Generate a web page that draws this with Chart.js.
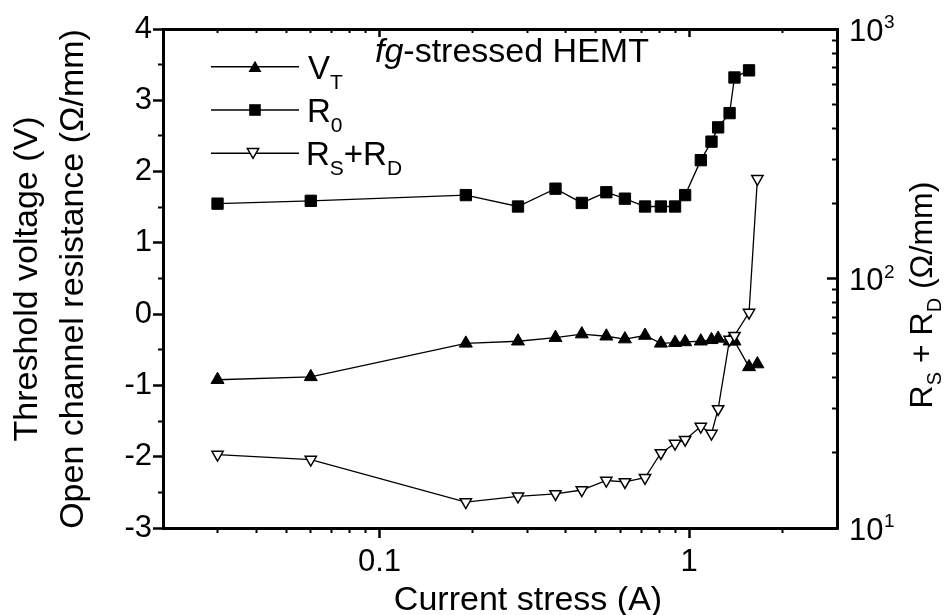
<!DOCTYPE html>
<html><head><meta charset="utf-8">
<script src="https://cdn.jsdelivr.net/npm/chart.js@4.4.0/dist/chart.umd.min.js"></script>
<style>html,body{margin:0;padding:0;background:#fff;}#wrap{width:945px;height:615px;position:relative;}</style>
</head><body><div id="wrap"><canvas id="c"></canvas></div>
<script>
// ---- data ----
const currentVT = [0.03,0.06,0.19,0.28,0.37,0.45,0.54,0.62,0.72,0.81,0.90,0.97,1.09,1.18,1.24,1.35,1.40,1.56,1.66];
const thresholdVoltage = [-0.92,-0.88,-0.41,-0.38,-0.33,-0.28,-0.31,-0.35,-0.30,-0.41,-0.40,-0.39,-0.38,-0.36,-0.34,-0.38,-0.38,-0.74,-0.70];
const currentR0 = [0.03,0.06,0.19,0.28,0.37,0.45,0.54,0.62,0.72,0.81,0.90,0.97,1.09,1.18,1.24,1.35,1.40,1.56];
const openChannelR = [1.55,1.59,1.67,1.51,1.76,1.56,1.71,1.62,1.51,1.51,1.51,1.67,2.16,2.42,2.62,2.82,3.32,3.42];
const currentRsRd = [0.03,0.06,0.19,0.28,0.37,0.45,0.54,0.62,0.72,0.81,0.90,0.97,1.09,1.18,1.24,1.35,1.40,1.56,1.66];
const rsPlusRd = [19.7,18.8,12.7,13.4,13.7,14.2,15.5,15.3,15.9,20.0,21.8,22.6,25.5,23.9,30.0,57,59,73,251];

const xMajorTicks = [0.1, 1];
const xMinorTicks = [0.03,0.04,0.05,0.06,0.07,0.08,0.09,0.2,0.3,0.4,0.5,0.6,0.7,0.8,0.9,2];
const yLeftTicks = [-3,-2,-1,0,1,2,3,4];
const yLeftMinorTicks = [-2.5,-1.5,-0.5,0.5,1.5,2.5,3.5];
const yRightTicks = [10,100,1000];
const yRightExponents = ['1','2','3'];
const yRightMinorTicks = [20,30,40,50,60,70,80,90,200,300,400,500,600,700,800,900];

const FONT = "'Liberation Sans', Arial, Helvetica, sans-serif";
const fnt = (size, style) => (style ? style + ' ' : '') + size + 'px ' + FONT;
const pts = (xs, ys) => xs.map((x, i) => ({x: x, y: ys[i]}));
const setTicks = arr => s => { s.ticks = arr.map(v => ({value: v})); };

function drawParts(ctx, parts, x, y) {
  let cx = x;
  for (const p of parts) {
    ctx.font = fnt(p.size, p.style);
    ctx.fillText(p.t, cx, y + (p.dy || 0));
    cx += ctx.measureText(p.t).width;
  }
  return cx;
}
function partsWidth(ctx, parts) {
  let w = 0;
  for (const p of parts) { ctx.font = fnt(p.size, p.style); w += ctx.measureText(p.t).width; }
  return w;
}

function triUp(ctx, x, y, r) {
  ctx.beginPath();
  ctx.moveTo(x, y - r);
  ctx.lineTo(x + r * Math.cos(Math.PI/6), y + r/2);
  ctx.lineTo(x - r * Math.cos(Math.PI/6), y + r/2);
  ctx.closePath();
}
function triDown(ctx, x, y, r) {
  ctx.beginPath();
  ctx.moveTo(x, y + r);
  ctx.lineTo(x + r * Math.cos(Math.PI/6), y - r/2);
  ctx.lineTo(x - r * Math.cos(Math.PI/6), y - r/2);
  ctx.closePath();
}

const textPlugin = {
  id: 'texts',
  afterDraw(chart) {
    const ctx = chart.ctx;
    ctx.save();
    ctx.fillStyle = '#000';
    ctx.strokeStyle = '#000';
    ctx.textBaseline = 'alphabetic';
    ctx.textAlign = 'left';

    // in-plot title
    drawParts(ctx, [{t:'fg', size:34, style:'italic'}, {t:'-stressed HEMT', size:34}], 375, 62);

    // legend
    const rows = [66.7, 110, 153.3];
    const lx1 = 211, lx2 = 299, mx = 255;
    ctx.lineWidth = 1.5;
    rows.forEach(ry => { ctx.beginPath(); ctx.moveTo(lx1, ry); ctx.lineTo(lx2, ry); ctx.stroke(); });
    triUp(ctx, mx, rows[0] + 1.5, 7.5); ctx.fill();
    ctx.fillRect(mx - 5.8, rows[1] - 5.8, 11.6, 11.6);
    triDown(ctx, mx - 2, rows[2] - 1.5, 6.5); ctx.fillStyle = '#fff'; ctx.fill(); ctx.stroke(); ctx.fillStyle = '#000';
    drawParts(ctx, [{t:'V', size:33}, {t:'T', size:21, dy:10}], 308, rows[0] + 12);
    drawParts(ctx, [{t:'R', size:33}, {t:'0', size:21, dy:10}], 307, rows[1] + 12);
    drawParts(ctx, [{t:'R', size:33}, {t:'S', size:21, dy:10}, {t:'+R', size:33}, {t:'D', size:21, dy:10}], 306, rows[2] + 12);

    // right-axis tick labels with superscripts
    const y2 = chart.scales.y2;
    yRightTicks.forEach((v, i) => {
      const py = y2.getPixelForValue(v);
      ctx.font = fnt(31);
      ctx.textBaseline = 'middle';
      ctx.fillText('10', 849, py + 3);
      const w = ctx.measureText('10').width;
      ctx.textBaseline = 'alphabetic';
      ctx.font = fnt(19);
      ctx.fillText(yRightExponents[i], 849 + w + 0.5, py - 1);
    });

    // x-axis title
    ctx.font = fnt(34);
    ctx.textAlign = 'center';
    ctx.fillText('Current stress (A)', 528, 610);
    ctx.textAlign = 'left';

    // left axis title (two lines)
    ctx.save();
    ctx.translate(0, 279);
    ctx.rotate(-Math.PI / 2);
    ctx.font = fnt(34);
    ctx.textAlign = 'center';
    ctx.fillText('Threshold voltage (V)', 0, 36.5);
    ctx.fillText('Open channel resistance (\u03A9/mm)', 0, 83);
    ctx.restore();

    // right axis title
    ctx.save();
    ctx.translate(932, 295);
    ctx.rotate(-Math.PI / 2);
    const rp = [{t:'R', size:32}, {t:'S', size:20, dy:9}, {t:' + R', size:32}, {t:'D', size:20, dy:9}, {t:' (\u03A9/mm)', size:32}];
    const rw = partsWidth(ctx, rp);
    drawParts(ctx, rp, -rw / 2, 0);
    ctx.restore();

    ctx.restore();
  }
};

const gridNo = (len, w) => ({drawOnChartArea:false, drawTicks:true, tickLength:len, tickWidth:w, tickColor:'#000'});

new Chart(document.getElementById('c'), {
  type: 'scatter',
  data: {
    datasets: [
      {label:'RS+RD', data: pts(currentRsRd, rsPlusRd), yAxisID:'y2', showLine:true,
       borderColor:'#000', borderWidth:1.3, pointStyle:'triangle', pointRotation:180, pointRadius:6.5,
       pointBackgroundColor:'#fff', pointBorderColor:'#000', pointBorderWidth:1.5, tension:0},
      {label:'VT', data: pts(currentVT, thresholdVoltage), yAxisID:'y', showLine:true,
       borderColor:'#000', borderWidth:1.3, pointStyle:'triangle', pointRadius:7.5,
       pointBackgroundColor:'#000', pointBorderColor:'#000', pointBorderWidth:1, tension:0},
      {label:'R0', data: pts(currentR0, openChannelR), yAxisID:'y', showLine:true,
       borderColor:'#000', borderWidth:1.3, pointStyle:'rect', pointRadius:8,
       pointBackgroundColor:'#000', pointBorderColor:'#000', pointBorderWidth:1, tension:0}
    ]
  },
  options: {
    responsive: true, maintainAspectRatio: false, animation: false,
    layout: {padding: {top: 29, left: 0, right: 0, bottom: 0}},
    plugins: {legend: {display:false}, tooltip: {enabled:false}},
    scales: {
      x: {type:'logarithmic', position:'bottom', min:0.02, max:3, weight:1,
          afterBuildTicks: setTicks(xMajorTicks), afterFit: s => { s.height = 87; },
          ticks: {callback: v => String(v), font:{family:FONT, size:31}, color:'#000', padding:6, maxRotation:0, autoSkip:false},
          grid: gridNo(10, 2.5), border: {display:true, width:3, color:'#000'}},
      xMinor: {type:'logarithmic', position:'bottom', min:0.02, max:3, weight:0,
          afterBuildTicks: setTicks(xMinorTicks), afterFit: s => { s.height = 0; },
          ticks: {display:false}, grid: gridNo(5, 2), border: {display:false}},
      xTop: {type:'logarithmic', position:'top', min:0.02, max:3, weight:1,
          afterBuildTicks: setTicks(xMajorTicks), afterFit: s => { s.height = 0; },
          ticks: {display:false}, grid: gridNo(-8, 2.5), border: {display:true, width:3, color:'#000'}},
      xTopMinor: {type:'logarithmic', position:'top', min:0.02, max:3, weight:0,
          afterBuildTicks: setTicks(xMinorTicks), afterFit: s => { s.height = 0; },
          ticks: {display:false}, grid: gridNo(-4, 2), border: {display:false}},
      y: {type:'linear', position:'left', min:-3, max:4, weight:1,
          afterBuildTicks: setTicks(yLeftTicks), afterFit: s => { s.width = 163; },
          ticks: {callback: v => String(v), font:{family:FONT, size:31}, color:'#000', padding:1, autoSkip:false},
          grid: gridNo(10, 2.5), border: {display:true, width:3, color:'#000'}},
      yMinor: {type:'linear', position:'left', min:-3, max:4, weight:0,
          afterBuildTicks: setTicks(yLeftMinorTicks), afterFit: s => { s.width = 0; },
          ticks: {display:false}, grid: gridNo(5, 2), border: {display:false}},
      y2: {type:'logarithmic', position:'right', min:10, max:1000, weight:1,
          afterBuildTicks: setTicks(yRightTicks), afterFit: s => { s.width = 108; },
          ticks: {display:false}, grid: gridNo(-10, 2.5), border: {display:true, width:3, color:'#000'}},
      y2Minor: {type:'logarithmic', position:'right', min:10, max:1000, weight:0,
          afterBuildTicks: setTicks(yRightMinorTicks), afterFit: s => { s.width = 0; },
          ticks: {display:false}, grid: gridNo(-5, 2), border: {display:false}}
    }
  },
  plugins: [textPlugin]
});
</script>
</body></html>
